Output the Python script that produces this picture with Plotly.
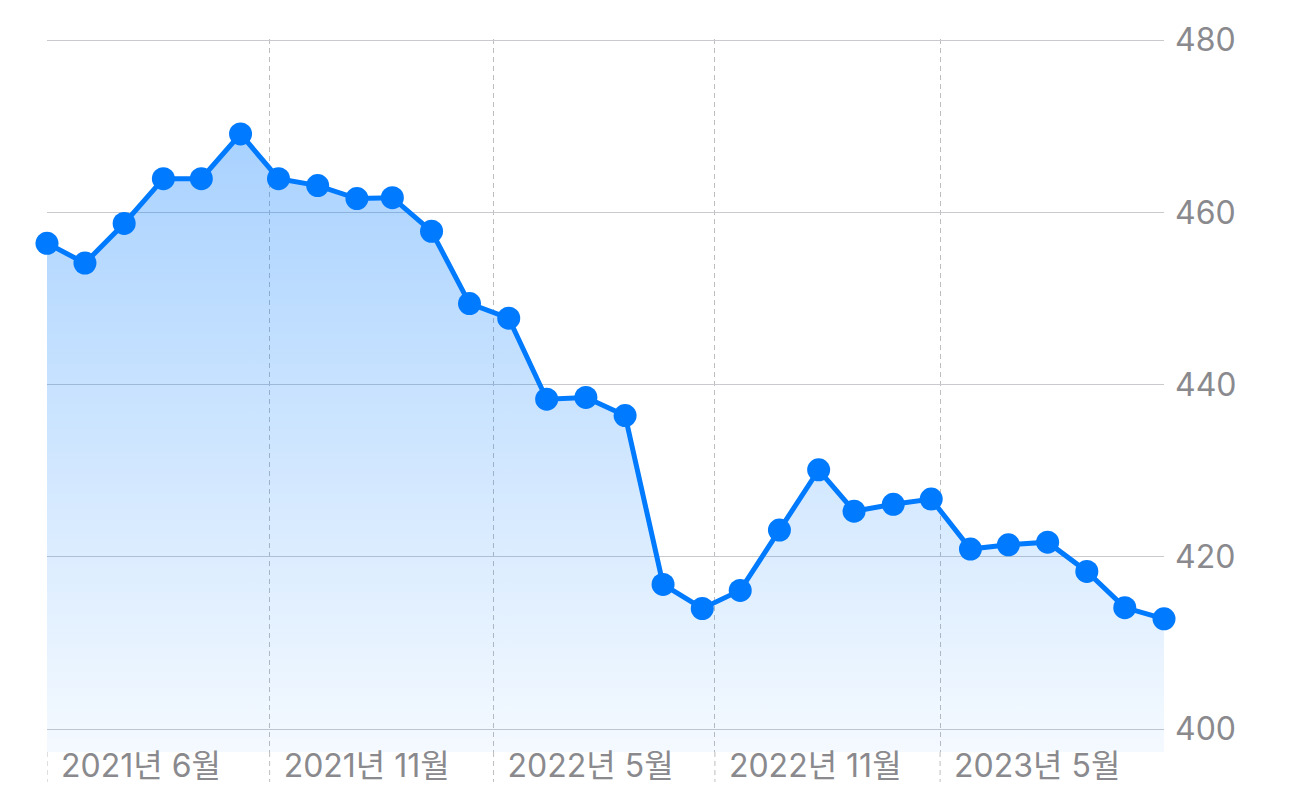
import plotly.graph_objects as go
import pandas as pd

# monthly values, Jun 2021 .. Nov 2023
dates = pd.date_range("2021-06-01", "2023-11-01", freq="MS")
values = [456.4, 454.1, 458.7, 463.9, 463.9, 469.1, 463.9, 463.1, 461.6, 461.7,
          457.8, 449.4, 447.7, 438.3, 438.5, 436.4, 416.8, 414.0, 416.1, 423.1,
          430.1, 425.3, 426.1, 426.7, 420.9, 421.4, 421.7, 418.3, 414.1, 412.8]

tick_dates = ["2021-06-01", "2021-11-24", "2022-05-20", "2022-11-11", "2023-05-08"]
tick_text = ["2021년 6월", "2021년 11월", "2022년 5월", "2022년 11월", "2023년 5월"]
y_ticks = [400, 420, 440, 460, 480]

blue = "#007AFF"
label_grey = "#8A8A8E"
vgrid = "#BDBDC2"
y_min = 397.34

# gradient area under the line
area = go.Scatter(
    x=dates, y=values,
    mode="lines",
    line=dict(width=0),
    fill="tozeroy",
    fillgradient=dict(
        type="vertical",
        start=y_min, stop=max(values),
        colorscale=[[0, "rgba(0,122,255,0.04)"], [1, "rgba(0,122,255,0.34)"]],
    ),
    hoverinfo="skip",
    showlegend=False,
)

line = go.Scatter(
    x=dates, y=values,
    mode="lines+markers",
    line=dict(color=blue, width=5),
    marker=dict(color=blue, size=23),
    cliponaxis=False,
    showlegend=False,
)

fig = go.Figure(data=[area, line])

# dashed gridlines continue below the plot past the labels
for d in tick_dates:
    fig.add_shape(type="line", xref="x", yref="paper",
                  x0=d, x1=d, y0=0, y1=-0.042,
                  line=dict(color=vgrid, width=1, dash="5px,4px"))

# page body adds an 8px margin, so the figure is a bit smaller than the window
fig.update_layout(
    width=1274, height=794,
    margin=dict(l=39, r=118, t=26, b=50),
    paper_bgcolor="white",
    plot_bgcolor="white",
    font=dict(family="Inter, 'Noto Sans CJK KR', sans-serif", size=32, color=label_grey),
    xaxis=dict(
        range=[dates[0], dates[-1]],
        tickvals=tick_dates,
        ticktext=tick_text,
        ticklabelposition="outside right",
        ticklabelshift=14,
        ticklabelstandoff=-8,
        showgrid=True,
        gridcolor=vgrid,
        gridwidth=1,
        griddash="5px,4px",
        zeroline=False,
        showline=False,
        ticks="",
    ),
    yaxis=dict(
        side="right",
        range=[y_min, 480.12],
        tickvals=y_ticks,
        showgrid=True,
        gridcolor="#C9C9CE",
        gridwidth=1,
        zeroline=False,
        showline=False,
        ticks="",
        ticklabelstandoff=10,
    ),
)

fig.write_html("out.html")
